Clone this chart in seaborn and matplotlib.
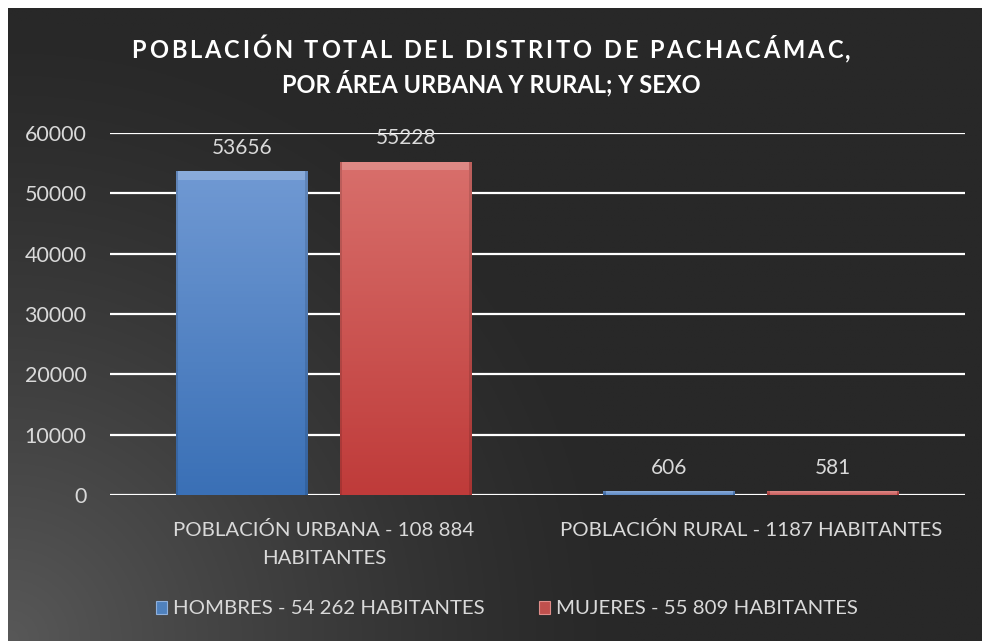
import numpy as np
import pandas as pd
import matplotlib
matplotlib.use("Agg")
import matplotlib.pyplot as plt
import matplotlib.colors as mcolors
from matplotlib.font_manager import FontProperties
from matplotlib.patches import Patch
import seaborn as sns

# ---- data ----
categories = ["POBLACIÓN URBANA - 108 884\nHABITANTES", "POBLACIÓN RURAL - 1187 HABITANTES"]
series_names = ["HOMBRES - 54 262 HABITANTES", "MUJERES - 55 809 HABITANTES"]
hombres = [53656, 606]
mujeres = [55228, 581]
yticks = [0, 10000, 20000, 30000, 40000, 50000, 60000]
title_line1 = "POBLACIÓN TOTAL DEL DISTRITO DE PACHACÁMAC,"
title_line2 = "POR ÁREA URBANA Y RURAL; Y SEXO"

df = pd.DataFrame({
    "cat": categories * 2,
    "serie": [series_names[0]] * 2 + [series_names[1]] * 2,
    "valor": hombres + mujeres,
})

sns.set_theme(style="white")
plt.rcParams["font.family"] = ["Lato", "DejaVu Sans"]

W, H = 982, 641
fig = plt.figure(figsize=(W / 100, H / 100), dpi=100, facecolor="white")

# background gradient panel
bg_ax = fig.add_axes([8 / W, 0, 1 - 8 / W, 1 - 8 / H])
bg_ax.set_axis_off()
nx, ny = 400, 260
xx, yy = np.meshgrid(np.linspace(0, W - 8, nx), np.linspace(0, H - 8, ny))
r = np.sqrt(xx ** 2 + yy ** 2)  # distance from bottom-left
t = np.clip(1 - r / 620, 0, 1) ** 1.3
dark, light = 0x28 / 255, 0x58 / 255
val = dark + (light - dark) * t
img = np.dstack([val, val, val])
bg_ax.imshow(img, origin="lower", aspect="auto", extent=[0, 1, 0, 1])
bg_ax.set_xlim(0, 1)
bg_ax.set_ylim(0, 1)

ax = fig.add_axes([110 / W, 1 - 495 / H, (965 - 110) / W, (495 - 133) / H])
ax.set_facecolor("none")

blue, red = "#4f81bd", "#c0504d"
sns.barplot(data=df, x="cat", y="valor", hue="serie", palette=[blue, red],
            width=0.767, gap=0.195, ax=ax, legend=False, saturation=1,
            edgecolor="none", zorder=3)

grads = {blue: ("#7099d3", "#3a70b6"), red: ("#d86f6b", "#bf3b3a")}
ax.set_ylim(0, 60000)
ax.set_xlim(-0.5, 1.5)
for p in ax.patches:
    fc = mcolors.to_hex(p.get_facecolor())
    top_c, bot_c = grads.get(fc, (fc, fc))
    x0, y0 = p.get_x(), p.get_y()
    w, h = p.get_width(), p.get_height()
    cmap = mcolors.LinearSegmentedColormap.from_list("g", [bot_c, top_c])
    grad = np.linspace(0, 1, 100).reshape(-1, 1)
    im = ax.imshow(grad, cmap=cmap, origin="lower", aspect="auto",
                   extent=[x0, x0 + w, y0, y0 + h], zorder=4)
    im.set_clip_path(p)
    # bevel: top highlight band and darker side edges
    bh = min(h, 1400)
    ax.fill_between([x0 + w * 0.02, x0 + w * 0.98], y0 + h - bh, y0 + h,
                    color="white", alpha=0.18, lw=0, zorder=5)
    ax.fill_between([x0, x0 + w * 0.02], y0, y0 + h, color="black", alpha=0.12, lw=0, zorder=5)
    ax.fill_between([x0 + w * 0.98, x0 + w], y0, y0 + h, color="black", alpha=0.12, lw=0, zorder=5)

for p in ax.patches:
    v = p.get_height()
    ax.annotate(f"{int(round(v))}", (p.get_x() + p.get_width() / 2, v),
                xytext=(0, 17), textcoords="offset points", ha="center", va="center",
                color="#d9d9d9", fontsize=15, zorder=6)

ax.set_yticks(yticks)
ax.set_yticklabels([str(v) for v in yticks])
ax.yaxis.grid(True, color="white", lw=1.6, zorder=1)
ax.set_axisbelow(True)
for s in ax.spines.values():
    s.set_visible(False)
ax.tick_params(axis="y", colors="#d9d9d9", labelsize=15.5, length=0, pad=17)
ax.tick_params(axis="x", colors="#d9d9d9", labelsize=14.7, length=0, pad=19)
ax.set_xlabel("")
ax.set_ylabel("")
for lab in ax.get_xticklabels():
    lab.set_linespacing(1.75)

# ---- title: line 1 letter-spaced, line 2 normal ----
renderer = fig.canvas.get_renderer()
fp = FontProperties(family=["Lato", "DejaVu Sans"], weight="bold", size=17)


def text_width(s):
    tt = fig.text(0, 0, s + "H", fontproperties=fp)
    th = fig.text(0, 0, "H", fontproperties=fp)
    wv = tt.get_window_extent(renderer).width - th.get_window_extent(renderer).width
    tt.remove()
    th.remove()
    return wv


track = 2.9  # extra px between letters
n = len(title_line1)
total = text_width(title_line1) + track * (n - 1)
x_start = W / 2 - total / 2
for i, ch in enumerate(title_line1):
    xpos = x_start + text_width(title_line1[:i]) + track * i if i else x_start
    fig.text(xpos / W, 1 - 58 / H, ch, ha="left", va="baseline", color="white",
             fontproperties=fp)
fig.text(0.5, 1 - 92 / H, title_line2, ha="center", va="baseline", color="white",
         fontproperties=fp)

handles = [Patch(facecolor=blue, edgecolor="#8fb0dc", lw=0.8),
           Patch(facecolor=red, edgecolor="#e08d8a", lw=0.8)]
fig.legend(handles, series_names, loc="center", bbox_to_anchor=(507 / W, 1 - 609 / H),
           ncol=2, frameon=False, fontsize=14.7, labelcolor="#d9d9d9",
           handlelength=0.55, handleheight=0.65, handletextpad=0.3, columnspacing=2.65)

fig.savefig("out.png", dpi=100, facecolor="white")
